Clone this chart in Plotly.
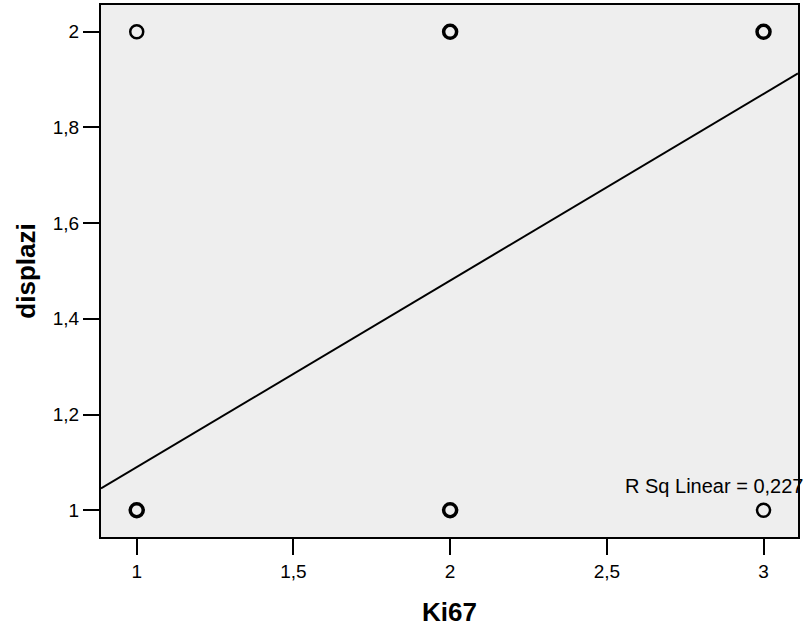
import plotly.graph_objects as go

# data
ki67 = [1, 1, 2, 2, 3, 3]
displazi = [1, 2, 1, 2, 1, 2]
counts = [3, 1, 3, 3, 1, 3]
fit_intercept = 0.70
fit_slope = 0.39
r_sq_label = "R Sq Linear = 0,227"
x_range = [0.886, 3.11]
y_range = [0.944, 2.056]

line_x = x_range
line_y = [fit_intercept + fit_slope * v for v in line_x]

fig = go.Figure()
fig.add_trace(go.Scatter(
    x=line_x, y=line_y, mode="lines",
    line=dict(color="black", width=2), showlegend=False, hoverinfo="skip"))
fig.add_trace(go.Scatter(
    x=ki67, y=displazi, mode="markers",
    marker=dict(symbol="circle-open", size=13, color="black",
                line=dict(color="black", width=[2.5 if c == 1 else 3.5 for c in counts])),
    showlegend=False))

fig.add_annotation(x=1.0, y=1.05, xref="paper", yref="y", text=r_sq_label,
                   showarrow=False, xanchor="right", yanchor="middle", xshift=7,
                   font=dict(size=20, color="black", family="Liberation Sans, Arial"))

axis_common = dict(showgrid=False, zeroline=False, showline=True, linecolor="black",
                   linewidth=2, mirror=True, ticks="outside", ticklen=16, tickwidth=2,
                   tickcolor="black", tickfont=dict(size=19, color="black"))

fig.update_xaxes(range=x_range, tickvals=[1, 1.5, 2, 2.5, 3],
                 title=dict(text="<b>Ki67</b>", font=dict(size=26, color="black"), standoff=22),
                 **axis_common)
fig.update_yaxes(range=y_range, tickvals=[1, 1.2, 1.4, 1.6, 1.8, 2],
                 title=dict(text="<b>displazi</b>", font=dict(size=26, color="black"), standoff=10),
                 **axis_common)

fig.update_layout(
    width=806, height=631, separators=", ",
    margin=dict(l=101, r=8, t=3, b=94),
    plot_bgcolor="#EEEEEE", paper_bgcolor="white",
    font=dict(family="Liberation Sans, Arial", color="black"),
)
fig.write_html("out.html")
